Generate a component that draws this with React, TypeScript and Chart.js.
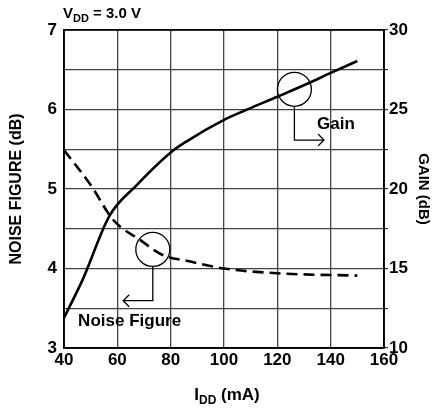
import React, { useEffect, useRef } from 'react';
import { Chart, registerables } from 'chart.js';

Chart.register(...registerables);

// ---- data ----
const gainCurrent = [40, 47, 57, 67, 80, 86, 100, 108, 120, 131, 140, 150];
const gainValues = [11.9, 14.3, 18.3, 20.2, 22.3, 23.0, 24.35, 24.95, 25.8, 26.6, 27.3, 28.05];
const nfCurrent = [40, 50, 58.5, 68.5, 77, 87, 100, 120, 150];
const nfValues = [5.49, 5.05, 4.61, 4.36, 4.17, 4.09, 4.0, 3.94, 3.91];

const xMin = 40, xMax = 160, xStep = 20;
const nfMin = 3, nfMax = 7, nfStep = 0.5;
const gainMin = 10, gainMax = 30, gainStep = 2.5;

// annotation anchors (data coords: mA, NF dB)
const gainCircle = { x: 126.4, y: 6.254 };
const gainElbow = { y: 5.616, xEnd: 137.5 };
const gainLabel = { x: 142, y: 5.818, text: 'Gain' };
const nfCircle = { x: 73.3, y: 4.24 };
const nfElbow = { y: 3.595, xEnd: 62.2 };
const nfLabel = { x: 64.6, y: 3.33, text: 'Noise Figure' };

const FONT = "'Liberation Sans', Arial, Helvetica, sans-serif";

const decorPlugin = {
  id: 'decor',
  afterDatasetsDraw(chart: any) {
    const { ctx, chartArea, scales } = chart;
    const xs = scales.x;
    const ys = scales.yNF;
    ctx.save();
    // frame
    ctx.strokeStyle = '#000';
    ctx.lineWidth = 1.6;
    ctx.strokeRect(chartArea.left, chartArea.top, chartArea.right - chartArea.left, chartArea.bottom - chartArea.top);

    const r = 17;
    ctx.lineWidth = 1.3;
    // gain circle + leader
    const gcx = xs.getPixelForValue(gainCircle.x);
    const gcy = ys.getPixelForValue(gainCircle.y);
    ctx.beginPath();
    ctx.arc(gcx, gcy, r, 0, Math.PI * 2);
    ctx.stroke();
    const gey = ys.getPixelForValue(gainElbow.y);
    const gex = xs.getPixelForValue(gainElbow.xEnd);
    ctx.beginPath();
    ctx.moveTo(gcx, gcy + r);
    ctx.lineTo(gcx, gey);
    ctx.lineTo(gex, gey);
    ctx.moveTo(gex - 6, gey - 6);
    ctx.lineTo(gex, gey);
    ctx.lineTo(gex - 6, gey + 6);
    ctx.stroke();

    // nf circle + leader
    const ncx = xs.getPixelForValue(nfCircle.x);
    const ncy = ys.getPixelForValue(nfCircle.y);
    ctx.beginPath();
    ctx.arc(ncx, ncy, r, 0, Math.PI * 2);
    ctx.stroke();
    const ney = ys.getPixelForValue(nfElbow.y);
    const nex = xs.getPixelForValue(nfElbow.xEnd);
    ctx.beginPath();
    ctx.moveTo(ncx, ncy + r);
    ctx.lineTo(ncx, ney);
    ctx.lineTo(nex, ney);
    ctx.moveTo(nex + 6, ney - 6);
    ctx.lineTo(nex, ney);
    ctx.lineTo(nex + 6, ney + 6);
    ctx.stroke();

    // labels
    ctx.fillStyle = '#000';
    ctx.font = `bold 17px ${FONT}`;
    ctx.textAlign = 'center';
    ctx.textBaseline = 'middle';
    ctx.fillText(gainLabel.text, xs.getPixelForValue(gainLabel.x), ys.getPixelForValue(gainLabel.y));
    ctx.fillText(nfLabel.text, xs.getPixelForValue(nfLabel.x), ys.getPixelForValue(nfLabel.y));

    // VDD label
    ctx.textAlign = 'left';
    ctx.textBaseline = 'alphabetic';
    let tx = chartArea.left - 1;
    const ty = chartArea.top - 12;
    ctx.font = `bold 15px ${FONT}`;
    ctx.fillText('V', tx, ty);
    tx += ctx.measureText('V').width;
    ctx.font = `bold 11px ${FONT}`;
    ctx.fillText('DD', tx, ty + 4);
    tx += ctx.measureText('DD').width;
    ctx.font = `bold 15px ${FONT}`;
    ctx.fillText(' = 3.0 V', tx, ty);

    // x title I_DD (mA)
    const parts: [string, number, number][] = [['I', 17, 0], ['DD', 12, 4], [' (mA)', 17, 0]];
    let total = 0;
    for (const [t, s] of parts) {
      ctx.font = `bold ${s}px ${FONT}`;
      total += ctx.measureText(t).width;
    }
    let px = (chartArea.left + chartArea.right) / 2 + 3 - total / 2;
    const py = 400;
    for (const [t, s, dy] of parts) {
      ctx.font = `bold ${s}px ${FONT}`;
      ctx.fillText(t, px, py + dy);
      px += ctx.measureText(t).width;
    }
    ctx.restore();
  },
};

export default function App() {
  const canvasRef = useRef<HTMLCanvasElement | null>(null);

  useEffect(() => {
    const canvas = canvasRef.current;
    if (!canvas) return;
    const chart = new Chart(canvas, {
      type: 'line',
      data: {
        datasets: [
          {
            label: 'Gain',
            data: gainCurrent.map((x, i) => ({ x, y: gainValues[i] })),
            yAxisID: 'yGain',
            borderColor: '#000',
            borderWidth: 2.6,
            pointRadius: 0,
            cubicInterpolationMode: 'monotone',
            fill: false,
          },
          {
            label: 'Noise Figure',
            data: nfCurrent.map((x, i) => ({ x, y: nfValues[i] })),
            yAxisID: 'yNF',
            borderColor: '#000',
            borderWidth: 2.6,
            borderDash: [11, 6],
            pointRadius: 0,
            cubicInterpolationMode: 'monotone',
            fill: false,
          },
        ],
      },
      options: {
        responsive: false,
        animation: false,
        layout: { padding: { top: 30, left: 0, right: 0, bottom: 0 } },
        plugins: { legend: { display: false }, tooltip: { enabled: false } },
        scales: {
          x: {
            type: 'linear',
            min: xMin,
            max: xMax,
            ticks: {
              stepSize: xStep,
              color: '#000',
              font: { family: FONT, size: 17, weight: 'bold' },
              padding: 2,
              maxRotation: 0,
            },
            grid: { color: '#444', lineWidth: 1.3, drawTicks: false },
            border: { color: '#000', width: 1.6 },
            afterFit: (s: any) => { s.height = 60; },
          },
          yNF: {
            type: 'linear',
            position: 'left',
            min: nfMin,
            max: nfMax,
            ticks: {
              stepSize: nfStep,
              color: '#000',
              font: { family: FONT, size: 17, weight: 'bold' },
              padding: 7,
              callback: (v: any) => (Number.isInteger(v) ? String(v) : ''),
            },
            grid: { color: '#444', lineWidth: 1.3, drawTicks: false },
            border: { color: '#000', width: 1.6 },
            title: {
              display: true,
              text: 'NOISE FIGURE (dB)',
              color: '#000',
              font: { family: FONT, size: 16, weight: 'bold' },
              padding: { top: 7, bottom: 0 },
            },
            afterFit: (s: any) => { s.width = 64; },
          },
          yGain: {
            type: 'linear',
            position: 'right',
            min: gainMin,
            max: gainMax,
            ticks: {
              stepSize: gainStep,
              color: '#000',
              font: { family: FONT, size: 17, weight: 'bold' },
              padding: 1,
              callback: (v: any) => (Number(v) % 5 === 0 ? String(v) : ''),
            },
            grid: { drawOnChartArea: false, color: '#333', lineWidth: 1.2, drawTicks: true, tickLength: 4 },
            border: { color: '#000', width: 1.6 },
            title: {
              display: true,
              text: 'GAIN (dB)',
              color: '#000',
              font: { family: FONT, size: 15, weight: 'bold' },
              padding: { top: 0, bottom: 0 },
            },
            afterFit: (s: any) => { s.width = 48; },
          },
        },
      },
      plugins: [decorPlugin],
    } as any);
    return () => chart.destroy();
  }, []);

  return (
    <div style={{ position: 'fixed', left: 0, top: 0, width: 432, height: 408, background: '#fff' }}>
      <canvas ref={canvasRef} width={432} height={408} />
    </div>
  );
}
